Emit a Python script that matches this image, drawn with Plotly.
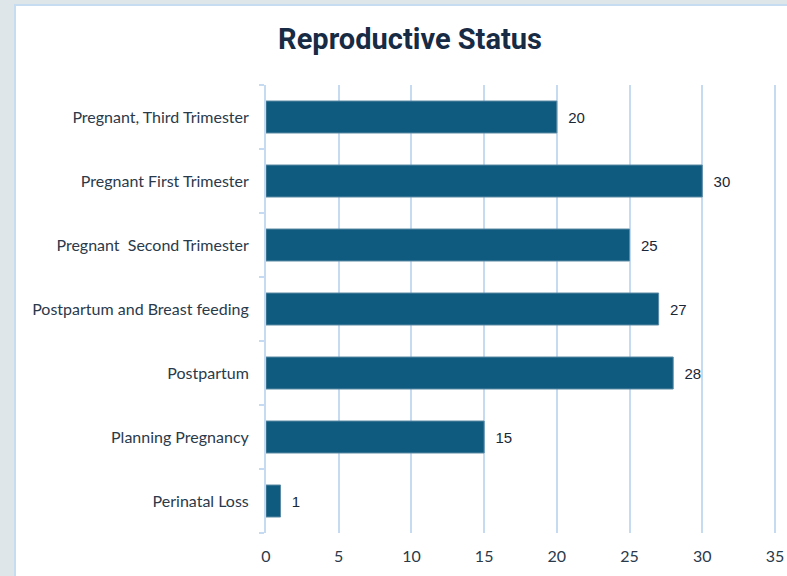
import plotly.graph_objects as go

categories = ["Perinatal Loss", "Planning Pregnancy", "Postpartum",
              "Postpartum and Breast feeding", "Pregnant  Second Trimester",
              "Pregnant First Trimester", "Pregnant, Third Trimester"]
values = [1, 15, 28, 27, 25, 30, 20]
x_ticks = [0, 5, 10, 15, 20, 25, 30, 35]

W, H = 787, 576
L, R, T, B = 266, 0, 85, 43
pw, ph = W - L - R, H - T - B

def px_x(p):
    return (p - L) / pw

def px_y(p):
    return (H - B - p) / ph

fig = go.Figure()
fig.add_trace(go.Bar(
    y=categories, x=values, orientation="h",
    marker=dict(color="#0f5b80", line=dict(color="#5d8aa4", width=1)),
    width=0.5,
    text=["  " + str(v) for v in values], textposition="outside",
    textfont=dict(family="Liberation Sans, Arial", size=15, color="#1a2736"),
    cliponaxis=False, hoverinfo="skip",
))

fig.update_layout(
    width=W, height=H,
    margin=dict(l=L, r=R, t=T, b=B, autoexpand=False),
    paper_bgcolor="#dfe6e9",
    plot_bgcolor="white",
    showlegend=False,
    title=dict(text="<b>Reproductive Status</b>", x=410 / W, xanchor="center",
               y=1 - 39 / H, yanchor="middle",
               font=dict(family="Roboto, Arial", size=29, color="#172b45")),
    xaxis=dict(range=[0, 35 + 12 / 14.52], tickvals=x_ticks, showgrid=True,
               gridcolor="#c6dbf1", gridwidth=2, zeroline=False, showline=False,
               ticks="", automargin=False,
               tickfont=dict(family="Lato, Arial", size=16, color="#2b3a4a"),
               ticklabelstandoff=12),
    yaxis=dict(showline=True, linecolor="#c6dbf1", linewidth=2, ticks="outside",
               tickson="boundaries", ticklen=5, tickcolor="#c6dbf1", tickwidth=2,
               showgrid=False, automargin=False,
               tickfont=dict(family="Lato, Arial", size=16, color="#2b3a4a"),
               ticklabelstandoff=12, range=[-0.5, 6.5]),
    bargap=0.5,
    shapes=[dict(type="rect", xref="paper", yref="paper", layer="below",
                 x0=px_x(15), x1=px_x(W + 20), y0=px_y(H + 20), y1=px_y(5),
                 fillcolor="white", line=dict(color="#c6dcf0", width=2))],
)

fig.write_html("out.html", config={"displayModeBar": False},
               post_script="document.body.style.margin='0';document.body.style.overflow='hidden';")
